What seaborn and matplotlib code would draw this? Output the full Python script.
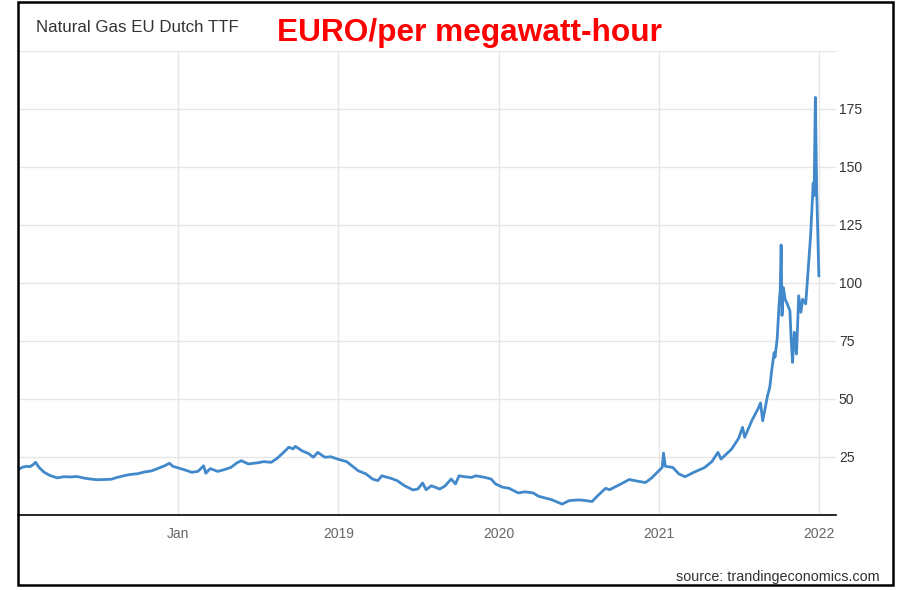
import numpy as np
import pandas as pd
import matplotlib
matplotlib.use("Agg")
import matplotlib.pyplot as plt
import matplotlib.dates as mdates
from matplotlib.patches import Rectangle
import seaborn as sns

# TTF price, EUR/MWh
dates = [
    "2017-01-01", "2017-01-10", "2017-01-20", "2017-01-28", "2017-02-05", "2017-02-10",
    "2017-02-18", "2017-03-01", "2017-03-15", "2017-04-01", "2017-04-15", "2017-05-01",
    "2017-05-15", "2017-06-01", "2017-06-15", "2017-07-01", "2017-07-15", "2017-08-01",
    "2017-08-15", "2017-09-01", "2017-09-15", "2017-10-01", "2017-10-15", "2017-11-01",
    "2017-11-15", "2017-12-01", "2017-12-12", "2017-12-20",
    "2018-01-01", "2018-01-15", "2018-02-01", "2018-02-15", "2018-02-28", "2018-03-05",
    "2018-03-15", "2018-04-01", "2018-04-15", "2018-05-01", "2018-05-15", "2018-05-25",
    "2018-06-10", "2018-07-01", "2018-07-15", "2018-08-01", "2018-08-15", "2018-09-01",
    "2018-09-10", "2018-09-20", "2018-09-25", "2018-10-10", "2018-10-25", "2018-11-05",
    "2018-11-15", "2018-12-01", "2018-12-15",
    "2019-01-01", "2019-01-20", "2019-02-15", "2019-03-05", "2019-03-20", "2019-04-01",
    "2019-04-10", "2019-05-01", "2019-05-15", "2019-06-01", "2019-06-20", "2019-07-01",
    "2019-07-12", "2019-07-20", "2019-08-01", "2019-08-20", "2019-09-01", "2019-09-15",
    "2019-09-25", "2019-10-03", "2019-10-15", "2019-11-01", "2019-11-10", "2019-12-01",
    "2019-12-15", "2019-12-25",
    "2020-01-10", "2020-01-25", "2020-02-15", "2020-03-01", "2020-03-20", "2020-04-01",
    "2020-05-01", "2020-05-25", "2020-06-10", "2020-07-01", "2020-07-15", "2020-08-01",
    "2020-08-15", "2020-09-01", "2020-09-10", "2020-10-01", "2020-10-25", "2020-11-15",
    "2020-12-01", "2020-12-15", "2020-12-31",
    "2021-01-08", "2021-01-11", "2021-01-15", "2021-02-01", "2021-02-15", "2021-03-01",
    "2021-03-20", "2021-04-15", "2021-05-01", "2021-05-15", "2021-05-22", "2021-06-15",
    "2021-07-01", "2021-07-10", "2021-07-15", "2021-08-01", "2021-08-15", "2021-08-20",
    "2021-08-25", "2021-09-05", "2021-09-10", "2021-09-15", "2021-09-20", "2021-09-22",
    "2021-09-27", "2021-10-01", "2021-10-04", "2021-10-06", "2021-10-08", "2021-10-11",
    "2021-10-15", "2021-10-20", "2021-10-26", "2021-10-29", "2021-11-01", "2021-11-05",
    "2021-11-10", "2021-11-15", "2021-11-20", "2021-11-24", "2021-12-01", "2021-12-05",
    "2021-12-12", "2021-12-18", "2021-12-20", "2021-12-23", "2021-12-26", "2021-12-31",
]
prices = [
    19.5, 20.5, 21.0, 20.8, 21.8, 22.7,
    20.5, 18.5, 17.0, 16.0, 16.5, 16.4,
    16.6, 15.9, 15.5, 15.2, 15.3, 15.4,
    16.2, 17.0, 17.5, 17.8, 18.5, 19.0,
    20.0, 21.2, 22.3, 21.0,
    20.3, 19.5, 18.4, 18.8, 21.2, 18.0,
    20.0, 18.8, 19.5, 20.5, 22.5, 23.4,
    22.0, 22.5, 23.0, 22.7, 24.5, 27.5,
    29.2, 28.5, 29.6, 27.7, 26.5, 24.9,
    27.0, 24.9, 25.1,
    24.0, 23.0, 19.1, 17.7, 15.5, 14.8,
    16.9, 15.8, 14.8, 12.6, 10.8, 11.2,
    13.8, 10.9, 12.6, 11.2, 12.5, 15.5,
    13.4, 16.9, 16.5, 16.2, 16.9, 16.2,
    15.5, 13.4,
    12.0, 11.5, 9.5, 10.0, 9.5, 8.1,
    6.6, 4.7, 6.2, 6.5, 6.3, 5.8,
    8.5, 11.5, 10.9, 12.9, 15.3, 14.5,
    14.0, 16.0, 19.0,
    20.5, 26.7, 21.0, 20.5, 17.7, 16.5,
    18.3, 20.5, 23.0, 27.0, 24.1, 28.4,
    33.0, 37.8, 33.5, 41.0, 46.0, 48.3,
    40.6, 51.4, 55.0, 63.0, 70.0, 68.0,
    75.9, 90.0, 97.4, 116.4, 86.0, 98.0,
    93.0, 91.0, 88.0, 75.0, 65.8, 78.8,
    69.4, 94.5, 87.4, 93.0, 91.0, 101.7,
    120.0, 143.0, 137.6, 180.0, 140.0, 103.0,
]
year_ticks = ["2018-01-01", "2019-01-01", "2020-01-01", "2021-01-01", "2022-01-01"]
year_labels = ["Jan", "2019", "2020", "2021", "2022"]
y_ticks = [25, 50, 75, 100, 125, 150, 175, 200]

df = pd.DataFrame({"date": pd.to_datetime(dates), "price": prices})

sns.set_theme(style="white")
plt.rcParams["font.family"] = ["Liberation Sans", "DejaVu Sans"]

fig = plt.figure(figsize=(8.99, 5.90), dpi=100)
ax = fig.add_axes([18 / 899, 1 - 515 / 590, (836 - 18) / 899, (515 - 51) / 590])

sns.lineplot(data=df, x="date", y="price", ax=ax, color="#4189ca", linewidth=2.0)

ax.set_xlim(pd.Timestamp("2017-01-01"), pd.Timestamp("2022-02-08"))
ax.set_ylim(0, 200)
ax.set_xticks(pd.to_datetime(year_ticks))
ax.set_xticklabels(year_labels)
ax.set_yticks(y_ticks)
ax.set_yticklabels([str(v) for v in y_ticks[:-1]] + [""])
ax.yaxis.tick_right()
ax.grid(True, color="#e6e6e6", linewidth=1)
ax.tick_params(axis="x", length=0, pad=9, labelsize=10, labelcolor="#666666")
ax.tick_params(axis="y", length=0, pad=2, labelsize=10, labelcolor="#333333")
ax.set_xlabel("")
ax.set_ylabel("")
for side in ["left", "top", "right"]:
    ax.spines[side].set_visible(False)
ax.spines["bottom"].set_color("black")
ax.spines["bottom"].set_linewidth(1.2)

fig.text(36 / 899, 1 - 27 / 590, "Natural Gas EU Dutch TTF", fontsize=12.2,
         color="#333333", va="center", ha="left")
fig.text(277 / 899, 1 - 33 / 590, "EURO/per megawatt-hour", fontsize=22.8,
         fontweight="bold", color="#ff0000", va="center", ha="left")
fig.text(880 / 899, 1 - 577 / 590, "source: trandingeconomics.com", fontsize=10.4,
         color="#333333", va="center", ha="right")

fig.patches.append(Rectangle((18 / 899, 1 - 585 / 590), (893 - 18) / 899, (585 - 2) / 590,
                             transform=fig.transFigure, fill=False,
                             edgecolor="black", linewidth=1.8))

fig.savefig("out.png", dpi=100)
